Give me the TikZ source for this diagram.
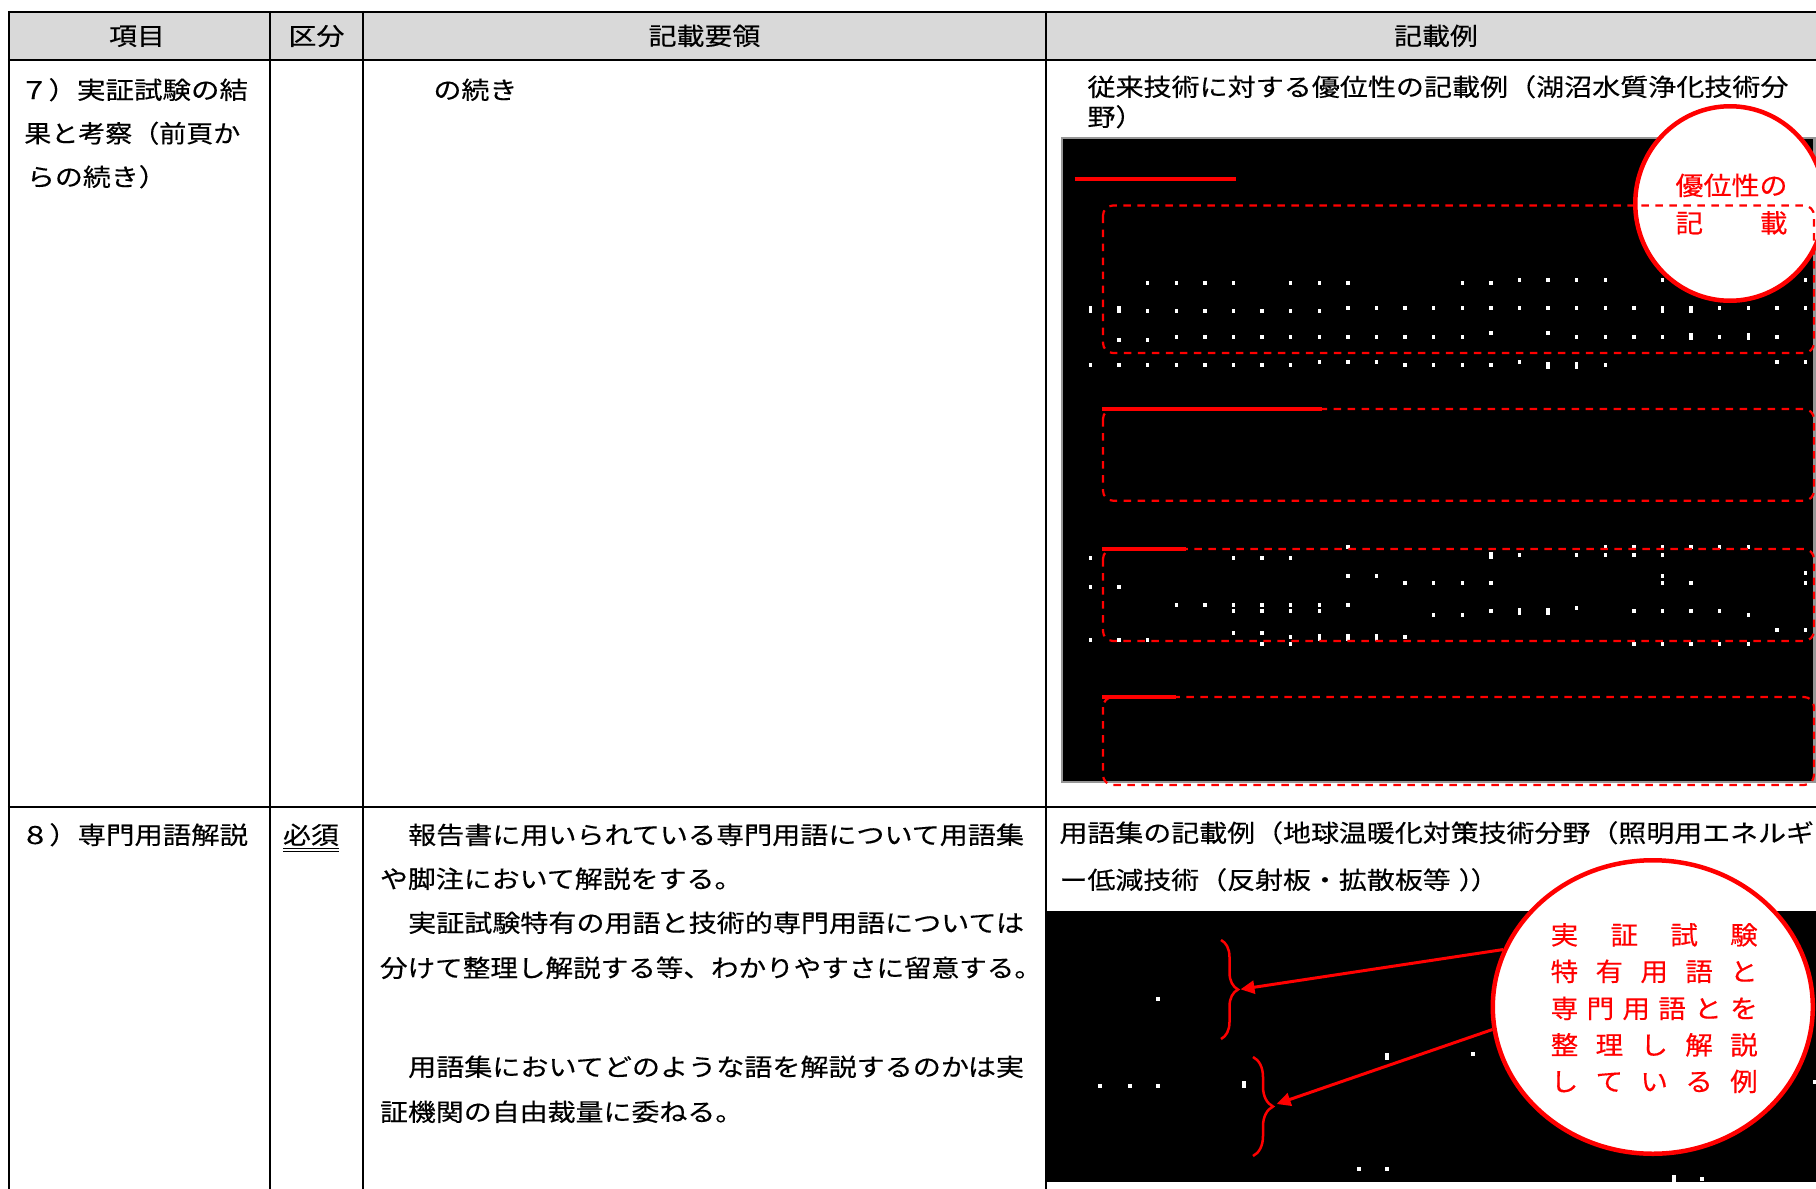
\documentclass[tikz,border=0pt]{standalone}
\usepackage{fontspec}
\usepackage{graphicx}
\usetikzlibrary{shapes.geometric,arrows.meta,decorations.pathreplacing}
\newfontfamily\jp[FakeStretch=1.15,FakeBold=0.35]{Noto Sans CJK JP}
\newfontfamily\jpc[FakeStretch=1.08,FakeBold=0.35]{Noto Sans CJK JP}
\definecolor{hdrgray}{RGB}{217,217,217}
\definecolor{boxgray}{RGB}{150,150,150}
\definecolor{rd}{RGB}{255,0,0}
\newsavebox\fitbox
\newcommand\fitto[2]{\sbox\fitbox{#2}\pgfmathsetmacro\fitsc{#1/\wd\fitbox}\scalebox{\fitsc}[1]{\usebox\fitbox}}
\newcommand\dotrow[2]{\foreach \k in {#2}{\fill[white] ({1088.75+28.6*\k},{#1-1.75}) rectangle ++(3.5,3.5);}}
\newcommand\dottall[2]{\foreach \k in {#2}{\fill[white] ({1088.75+28.6*\k},{#1-3.5}) rectangle ++(3.5,7);}}
\begin{document}
\begin{tikzpicture}[x=1pt,y=-1pt,
  txt/.style={anchor=base west,inner sep=0,outer sep=0,font=\jp\fontsize{24.3}{28}\selectfont},
  htxt/.style={anchor=base,inner sep=0,outer sep=0,font=\jp\fontsize{24.3}{28}\selectfont},
  rtxt/.style={anchor=base west,inner sep=0,outer sep=0,text=rd,font=\jpc\fontsize{25.5}{30}\selectfont},
  gridline/.style={line width=2.4pt,black},
  dashbox/.style={rd,line width=2.2pt,dash pattern=on 7.5pt off 6.5pt,rounded corners=10pt},
  redbar/.style={rd,line width=4pt},
  callout/.style={ellipse,draw=rd,fill=white,line width=4.5pt,inner sep=0pt},
  arr/.style={rd,line width=3pt,-{Triangle[length=14pt,width=13pt]}},
  brc/.style={rd,line width=2.5pt,decorate,decoration={brace,amplitude=#1}},
]
\useasboundingbox (0,0) rectangle (1816,1189);
\clip (0,0) rectangle (1816,1189);
\fill[white] (0,0) rectangle (1816,1189);
% header background
\fill[hdrgray] (9,12) rectangle (1830,60);

% ---- row 7 example picture ----
\fill[black] (1062,138) rectangle (1814.5,782);
\draw[boxgray,line width=2.6pt] (1062,138) rectangle (1814.5,782);
% dots section 1
\dotrow{283}{2,3,4,5,7,8,9,13,14}
\dotrow{280}{15,16,17,18,20,25}
\dotrow{311}{2,3,4,5,6,7,8}
\dotrow{308}{9,10,11,12,13,14,15,16,17,18,19,22,23,24,25}
\dottall{309.5}{0,1,20,21}
\dotrow{340}{1,2}
\dotrow{337}{3,4,5,6,7,8,9,10,11,12,13,17,18,19,20,22,24}
\dotrow{333}{14,16}
\dottall{336}{21,23}
\dotrow{365}{0,1,2,3,4,5,6,7,11,12,13,14,18}
\dotrow{362}{8,9,10,15,24,25}
\dottall{365}{16,17}
% dots section 3
\dotrow{547}{9,18,19,20,21,22,23}
\dotrow{555}{15,17,18,19,20}
\dottall{555.5}{14}
\dotrow{558}{0,5,6,7}
\dotrow{573}{25}
\dotrow{576}{9,10,20}
\dotrow{583}{11,12,13,14,20,21,25}
\dotrow{587}{0,1}
\dotrow{605}{3,4,5,6,7,8,9}
\dotrow{608}{17}
\dotrow{611}{5,6,7,8,14,19,20,21,22}
\dottall{611}{15,16}
\dotrow{615}{12,13,23}
\dotrow{630}{24,25}
\dotrow{633}{5,6}
\dotrow{637}{7,11}
\dottall{637}{8,9,10}
\dotrow{640}{0,1,2}
\dotrow{644}{6,7,19,20,21,22,23}

% callout 1
\node[callout,minimum width=189.5pt,minimum height=194.5pt] (co1) at (1730,203.5) {};
\node[rtxt] (co1a) at (1675.5,195) {\fitto{112}{優位性の}};
\node[rtxt] (co1b) at (1675.5,232.5) {\makebox[112pt][s]{記\hfill 載}};

% dashed boxes and red bars
\draw[dashbox] (1103,205.5) rectangle (1814,353);
\draw[dashbox] (1103,409) rectangle (1814,500.7);
\draw[dashbox] (1103,549) rectangle (1814,641);
\draw[dashbox] (1103,697) rectangle (1814,785);
\draw[redbar,line width=3.5pt] (1074.6,179) -- (1235.5,179);
\draw[redbar] (1102,409) -- (1322,409);
\draw[redbar] (1102,549) -- (1186,549);
\draw[redbar] (1102,697) -- (1176,697);

% ---- row 8 example picture ----
\fill[black] (1046,911) rectangle (1830,1181.7);
\fill[white] (1156.25,997.25) rectangle ++(3.5,3.5);
\fill[white] (1098.25,1084.25) rectangle ++(3.5,3.5);
\fill[white] (1128.25,1084.25) rectangle ++(3.5,3.5);
\fill[white] (1156.25,1084.25) rectangle ++(3.5,3.5);
\fill[white] (1242.25,1080.5) rectangle ++(3.5,7);
\fill[white] (1385.25,1052.5) rectangle ++(3.5,7);
\fill[white] (1471.25,1052.25) rectangle ++(3.5,3.5);
\fill[white] (1357.25,1167.25) rectangle ++(3.5,3.5);
\fill[white] (1385.25,1167.25) rectangle ++(3.5,3.5);
\fill[white] (1672.25,1174.5) rectangle ++(3.5,7);
\fill[white] (1700.25,1177.25) rectangle ++(3.5,3.5);
\fill[white] (1813.25,1080.25) rectangle ++(3.5,3.5);

\draw[brc=17pt] (1221,940) -- (1221,1039);
\draw[brc=20pt] (1253,1057) -- (1253,1156);
\coordinate (t1) at (1240.5,989.3);
\coordinate (t2) at (1276.6,1104);

\node[callout,minimum width=320pt,minimum height=293.5pt] (co2) at (1652.8,1007) {};
\draw[arr] (co2.159) -- (t1);
\draw[arr] (co2.188) -- (t2);
\node[rtxt] (co2a) at (1550.7,944.5) {\makebox[207pt][s]{実\hfill 証\hfill 試\hfill 験}};
\node[rtxt] (co2b) at (1550.7,981) {\makebox[207pt][s]{特\hfill 有\hfill 用\hfill 語\hfill と}};
\node[rtxt] (co2c) at (1550.7,1018) {\makebox[207pt][s]{専\hfill 門\hfill 用\hfill 語\hfill と\hfill を}};
\node[rtxt] (co2d) at (1550.7,1054.5) {\makebox[207pt][s]{整\hfill 理\hfill し\hfill 解\hfill 説}};
\node[rtxt] (co2e) at (1550.7,1091) {\makebox[207pt][s]{し\hfill て\hfill い\hfill る\hfill 例}};

% ---- texts ----
\node[htxt] (h1) at (137,45) {項目};
\node[htxt] (h2) at (316.5,45) {区分};
\node[htxt] (h3) at (704.5,45) {記載要領};
\node[htxt] (h4) at (1436,45) {記載例};

\node[txt] (a1) at (20,99) {\fitto{228}{７）実証試験の結}};
\node[txt] (a2) at (24.3,142.5) {\fitto{216}{果と考察（前頁か}};
\node[txt] (a3) at (27,186) {らの続き）};
\node[txt] (b1) at (433.5,99) {の続き};
\node[txt] (c1) at (1087.5,96) {\fitto{701}{従来技術に対する優位性の記載例（湖沼水質浄化技術分}};
\node[txt] (c2) at (1087.5,126) {野）};

\node[txt] (d1) at (21,844) {\fitto{227}{８）専門用語解説}};
\node[txt] (e1) at (283,844) {必須};
\draw[line width=1pt] ([yshift=-4.5pt]e1.base west) -- ([yshift=-4.5pt]e1.base east);
\draw[line width=1pt] ([yshift=-7.5pt]e1.base west) -- ([yshift=-7.5pt]e1.base east);
\node[txt] (f1) at (380,844) {\fitto{644}{\hspace*{28pt}報告書に用いられている専門用語について用語集}};
\node[txt] (f2) at (380,888) {や脚注において解説をする。};
\node[txt] (f3) at (380,932) {\fitto{644}{\hspace*{28pt}実証試験特有の用語と技術的専門用語については}};
\node[txt] (f4) at (380,977) {\fitto{662}{分けて整理し解説する等、わかりやすさに留意する。}};
\node[txt] (f5) at (380,1076) {\fitto{644}{\hspace*{28pt}用語集においてどのような語を解説するのかは実}};
\node[txt] (f6) at (380,1121) {証機関の自由裁量に委ねる。};
\node[txt] (g1) at (1059.5,842) {用語集の記載例（地球温暖化対策技術分野（照明用エネルギ};
\node[txt] (g2) at (1059.5,889) {ー低減技術（反射板・拡散板等\kern8pt）\kern-16pt）};

% ---- table grid ----
\draw[gridline] (7.8,12) -- (1830,12);
\draw[gridline] (7.8,60) -- (1830,60);
\draw[gridline] (7.8,807) -- (1830,807);
\draw[gridline] (9,10.8) -- (9,1195);
\draw[gridline] (270,10.8) -- (270,1195);
\draw[gridline] (363,10.8) -- (363,1195);
\draw[gridline] (1046,10.8) -- (1046,1195);
\end{tikzpicture}
\end{document}
